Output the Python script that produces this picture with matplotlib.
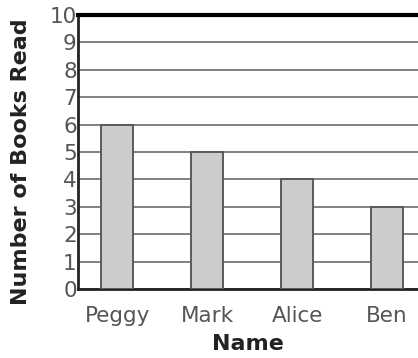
import matplotlib.pyplot as plt

names = ['Peggy', 'Mark', 'Alice', 'Ben']
books = [6, 5, 4, 3]
y_ticks = list(range(0, 11))

plt.rcParams['font.family'] = ['DejaVu Sans']
fig = plt.figure(figsize=(4.18, 3.58), dpi=100)
ax = fig.add_axes([0.187, 0.193, 0.813, 0.765])

ax.bar(range(len(names)), books, width=0.35, color='#cccccc',
       edgecolor='#5a5a5a', linewidth=1.4, zorder=3)

ax.set_xlim(-0.433, 3.344)
ax.set_ylim(0, 10)
ax.set_yticks(y_ticks)
ax.set_xticks(range(len(names)))
ax.set_xticklabels(names)
ax.grid(axis='y', color='#808080', linewidth=1.4, zorder=0)
ax.set_axisbelow(True)

ax.tick_params(axis='both', length=0, labelsize=15.5, labelcolor='#555555')
ax.tick_params(axis='y', pad=1)
ax.tick_params(axis='x', pad=12)

for side in ['left', 'bottom']:
    ax.spines[side].set_linewidth(2)
    ax.spines[side].set_color('#222222')
ax.spines['top'].set_linewidth(3)
ax.spines['top'].set_color('black')
ax.spines['right'].set_visible(False)

ax.set_ylabel('Number of Books Read', fontsize=16, fontweight='bold', color='#222222')
ax.yaxis.set_label_coords(-0.14, 0.4635)
ax.set_xlabel('Name', fontsize=16, fontweight='bold', color='#222222', labelpad=6)

fig.savefig('out.png', dpi=100)
